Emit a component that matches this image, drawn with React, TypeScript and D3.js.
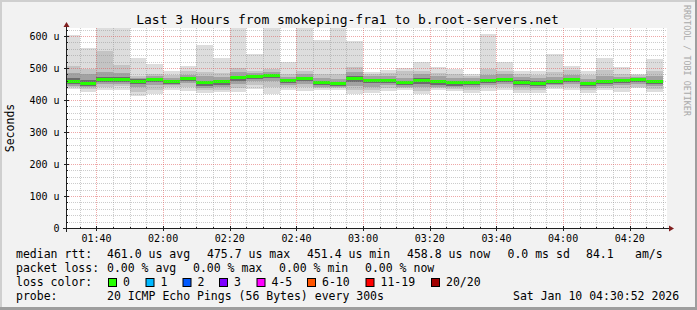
import React from 'react';
import * as d3 from 'd3';

const W = 697;
const H = 310;
const FONT = "'DejaVu Sans Mono', 'Liberation Mono', monospace";

const TITLE = 'Last 3 Hours from smokeping-fra1 to b.root-servers.net';
const UNIT = 'Seconds';
const WATERMARK = 'RRDTOOL / TOBI OETIKER';

// bar end times (5 min steps), first one 01:35
const barEnds = [
  '01:35', '01:40', '01:45', '01:50', '01:55', '02:00', '02:05', '02:10', '02:15',
  '02:20', '02:25', '02:30', '02:35', '02:40', '02:45', '02:50', '02:55', '03:00',
  '03:05', '03:10', '03:15', '03:20', '03:25', '03:30', '03:35', '03:40', '03:45',
  '03:50', '03:55', '04:00', '04:05', '04:10', '04:15', '04:20', '04:25', '04:30',
];

// values in microseconds
const median = [457, 451.4, 463, 464, 459, 463, 457, 467, 454, 457, 470, 473, 475.7, 460, 467, 455, 451.4, 467, 461, 462, 454, 462, 457, 454, 455, 460, 463, 456, 453, 457, 463, 451.4, 457, 460, 465, 458.8];
const pingMax = [604, 563, 640, 640, 532, 512, 490, 506, 572, 530, 640, 544, 640, 518, 640, 587, 640, 585, 489, 494, 501, 518, 504, 497, 481, 606, 518, 490, 490, 544, 507, 492, 531, 502, 482, 529];
const pingHi2 = [506, 497, 553, 509, 476, 482, 478, 490, 487, 483, 500, 490, 496, 480, 492, 480, 480, 503, 482, 484, 490, 492, 484, 482, 475, 496, 490, 482, 478, 486, 494, 478, 495, 482, 477, 490];
const pingHi3 = [485, 482, 488, 484, 470, 474, 470, 479, 474, 472, 486, 483, 486, 472, 482, 469, 466, 488, 474, 476, 470, 480, 474, 469, 468, 478, 480, 472, 468, 472, 478, 466, 475, 472, 472, 475];
const pingHi4 = [468, 462, 472, 472, 465, 468, 463, 471, 460, 462, 476, 478, 480, 465, 472, 460, 456, 474, 466, 467, 460, 468, 462, 459, 460, 465, 469, 461, 458, 462, 468, 456, 463, 465, 469, 463];
const pingLo4 = [450, 445, 456, 457, 450, 455, 450, 460, 445, 448, 460, 465, 468, 452, 458, 447, 444, 455, 452, 453, 446, 450, 448, 445, 447, 453, 455, 446, 444, 451, 455, 444, 449, 452, 457, 450];
const pingLo3 = [445, 440, 450, 450, 440, 447, 446, 452, 438, 440, 450, 458, 458, 446, 450, 441, 440, 445, 442, 446, 440, 440, 442, 440, 440, 447, 450, 440, 438, 447, 449, 438, 443, 446, 450, 443];
const pingLo2 = [440, 434, 442, 444, 425, 430, 440, 442, 430, 432, 436, 446, 440, 440, 441, 436, 436, 430, 430, 436, 436, 428, 437, 435, 432, 440, 442, 432, 430, 441, 441, 430, 437, 437, 442, 435];
const pingMin = [433, 426, 431, 431, 413, 419, 432, 428, 422, 424, 424, 434, 419, 431, 428, 431, 432, 418, 422, 428, 431, 418, 431, 428, 423, 428, 432, 423, 423, 434, 430, 422, 431, 426, 436, 426];

const yMajor = [0, 100, 200, 300, 400, 500, 600];

const legendRtt = [
  { text: 'median rtt:', x: 16 },
  { text: '461.0 us avg', x: 107 },
  { text: '475.7 us max', x: 207 },
  { text: '451.4 us min', x: 307 },
  { text: '458.8 us now', x: 407 },
  { text: '0.0 ms sd', x: 507.5 },
  { text: '84.1', x: 586 },
  { text: 'am/s', x: 635 },
];
const legendLoss = [
  { text: 'packet loss:', x: 16 },
  { text: '0.00 % avg', x: 107 },
  { text: '0.00 % max', x: 193 },
  { text: '0.00 % min', x: 279 },
  { text: '0.00 % now', x: 365 },
];
const lossColors = [
  { label: '0', color: '#26ff00', x: 108 },
  { label: '1', color: '#00b8ff', x: 145.5 },
  { label: '2', color: '#0059ff', x: 182.5 },
  { label: '3', color: '#7e00ff', x: 219 },
  { label: '4-5', color: '#ff00ff', x: 256.5 },
  { label: '6-10', color: '#ff5500', x: 307 },
  { label: '11-19', color: '#ff0000', x: 365.5 },
  { label: '20/20', color: '#a10000', x: 431 },
];
const probeText = '20 ICMP Echo Pings (56 Bytes) every 300s';
const dateText = 'Sat Jan 10 04:30:52 2026';

const bands = [
  { lo: pingMin, hi: pingMax, color: '#dddddd' },
  { lo: pingLo2, hi: pingHi2, color: '#c4c4c4' },
  { lo: pingLo3, hi: pingHi3, color: '#a2a2a2' },
  { lo: pingLo4, hi: pingHi4, color: '#6c6c6c' },
];

const parse = d3.timeParse('%Y-%m-%d %H:%M:%S');

export default function App() {
  const L = 67, R = 667, T = 28, B = 228;
  const start = parse('2026-01-10 01:31:10') as Date;
  const end = parse('2026-01-10 04:31:10') as Date;
  const x = d3.scaleTime().domain([start, end]).range([L, R]);
  const y = d3.scaleLinear().domain([0, 625]).range([B, T]);
  const fmt = d3.timeFormat('%H:%M');

  const ends = barEnds.map((s) => parse('2026-01-10 ' + s + ':00') as Date);
  const xMinor = d3.timeMinute.every(5)!.range(start, end);
  const xMajor = d3.timeMinute.every(20)!.range(start, end);
  const yMinor = d3.range(0, 625, 20);

  const px = (v: number) => Math.round(v) + 0.5;

  return (
    <svg width={W} height={H} style={{ position: 'absolute', left: 0, top: 0 }} fontFamily={FONT}>
      <rect x={0} y={0} width={W} height={H} fill="#f2f2f2" />
      <rect x={0} y={0} width={W} height={2} fill="#cfcfcf" />
      <rect x={0} y={0} width={2} height={H} fill="#cfcfcf" />
      <rect x={0} y={H - 3} width={W} height={3} fill="#9e9e9e" />
      <rect x={W - 2} y={0} width={2} height={H} fill="#9e9e9e" />

      <text x={347.5} y={24} fontSize={13} textAnchor="middle" fill="#000">{TITLE}</text>

      <defs>
        <clipPath id="plotclip">
          <rect x={L} y={T} width={R - L} height={B - T} />
        </clipPath>
      </defs>
      <rect x={L} y={T} width={R - L} height={B - T} fill="#ffffff" />

      <g clipPath="url(#plotclip)" shapeRendering="crispEdges">
        {bands.map((b, bi) =>
          ends.map((e, i) => {
            const x0 = x(d3.timeMinute.offset(e, -5));
            const x1 = x(e);
            const y0 = y(b.hi[i]);
            const y1 = y(b.lo[i]);
            return <rect key={`b${bi}-${i}`} x={x0} y={y0} width={x1 - x0} height={y1 - y0} fill={b.color} />;
          })
        )}
        {ends.map((e, i) => {
          const x0 = x(d3.timeMinute.offset(e, -5));
          const x1 = x(e);
          return <rect key={`m${i}`} x={x0} y={y(median[i]) - 1.5} width={x1 - x0} height={3} fill="#26ff00" />;
        })}
      </g>

      <g>
        {yMinor.filter((v) => v % 100 !== 0).map((v) => (
          <line key={`ym${v}`} x1={L} x2={R} y1={px(y(v))} y2={px(y(v))} stroke="#8f8f8f" strokeOpacity={0.45} strokeDasharray="1,1" />
        ))}
        {xMinor.filter((t) => t.getMinutes() % 20 !== 0).map((t) => (
          <line key={`xm${+t}`} y1={T} y2={B} x1={px(x(t))} x2={px(x(t))} stroke="#8f8f8f" strokeOpacity={0.45} strokeDasharray="1,1" />
        ))}
        {yMajor.filter((v) => v > 0).map((v) => (
          <line key={`yM${v}`} x1={L} x2={R} y1={px(y(v))} y2={px(y(v))} stroke="#de4f4f" strokeOpacity={0.5} strokeDasharray="1,1" />
        ))}
        {xMajor.map((t) => (
          <line key={`xM${+t}`} y1={T} y2={B} x1={px(x(t))} x2={px(x(t))} stroke="#de4f4f" strokeOpacity={0.5} strokeDasharray="1,1" />
        ))}
      </g>

      {/* ticks */}
      <g stroke="#1f1f1f" shapeRendering="crispEdges">
        {xMajor.map((t) => (
          <line key={`xt${+t}`} x1={px(x(t))} x2={px(x(t))} y1={B - 2} y2={B + 3} />
        ))}
        {xMinor.map((t) => (
          <line key={`xtm${+t}`} x1={px(x(t))} x2={px(x(t))} y1={B - 1} y2={B + 1} />
        ))}
        {yMajor.map((v) => (
          <line key={`yt${v}`} x1={L - 3} x2={L + 2} y1={px(y(v))} y2={px(y(v))} />
        ))}
        {yMinor.map((v) => (
          <line key={`ytm${v}`} x1={L - 1} x2={L + 1} y1={px(y(v))} y2={px(y(v))} />
        ))}
      </g>

      {/* axes */}
      <g shapeRendering="crispEdges">
        <line x1={L - 4} x2={R + 3} y1={B + 0.5} y2={B + 0.5} stroke="#1f1f1f" />
        <line x1={L - 0.5} x2={L - 0.5} y1={B + 4} y2={T - 3} stroke="#1f1f1f" />
      </g>
      <path d={`M${R + 2},${B - 2.5} L${R + 7},${B + 0.5} L${R + 2},${B + 3.5} Z`} fill="#801f1f" />
      <path d={`M${L - 3.5},${T - 1} L${L - 0.5},${T - 6} L${L + 2.5},${T - 1} Z`} fill="#801f1f" />

      {/* axis labels */}
      {yMajor.map((v) => (
        <text key={`yl${v}`} x={59.5} y={y(v)} dy="0.36em" fontSize={10} textAnchor="end" fill="#000">
          {v === 0 ? '0' : `${v} u`}
        </text>
      ))}
      {xMajor.map((t) => (
        <text key={`xl${+t}`} x={x(t)} y={241.5} fontSize={10} textAnchor="middle" fill="#000">
          {fmt(t)}
        </text>
      ))}

      <text transform={`translate(14,128) rotate(-90)`} fontSize={11.5} textAnchor="middle" fill="#000">{UNIT}</text>
      <text transform={`translate(684,5) rotate(90)`} fontSize={8.4} fill="#a9a9a9">{WATERMARK}</text>

      {/* legend */}
      <g fontSize={11.5} fill="#000">
        {legendRtt.map((d, i) => (
          <text key={`r${i}`} x={d.x} y={257.5}>{d.text}</text>
        ))}
        {legendLoss.map((d, i) => (
          <text key={`l${i}`} x={d.x} y={271.5}>{d.text}</text>
        ))}
        <text x={16} y={285.5}>loss color:</text>
        {lossColors.map((d, i) => (
          <g key={`c${i}`}>
            <rect x={d.x + 0.5} y={278.5} width={8} height={8} fill={d.color} stroke="#000" />
            <text x={d.x + 15} y={285.5}>{d.label}</text>
          </g>
        ))}
        <text x={16} y={299.5}>probe:</text>
        <text x={107} y={299.5}>{probeText}</text>
        <text x={513} y={299.5}>{dateText}</text>
      </g>
    </svg>
  );
}
